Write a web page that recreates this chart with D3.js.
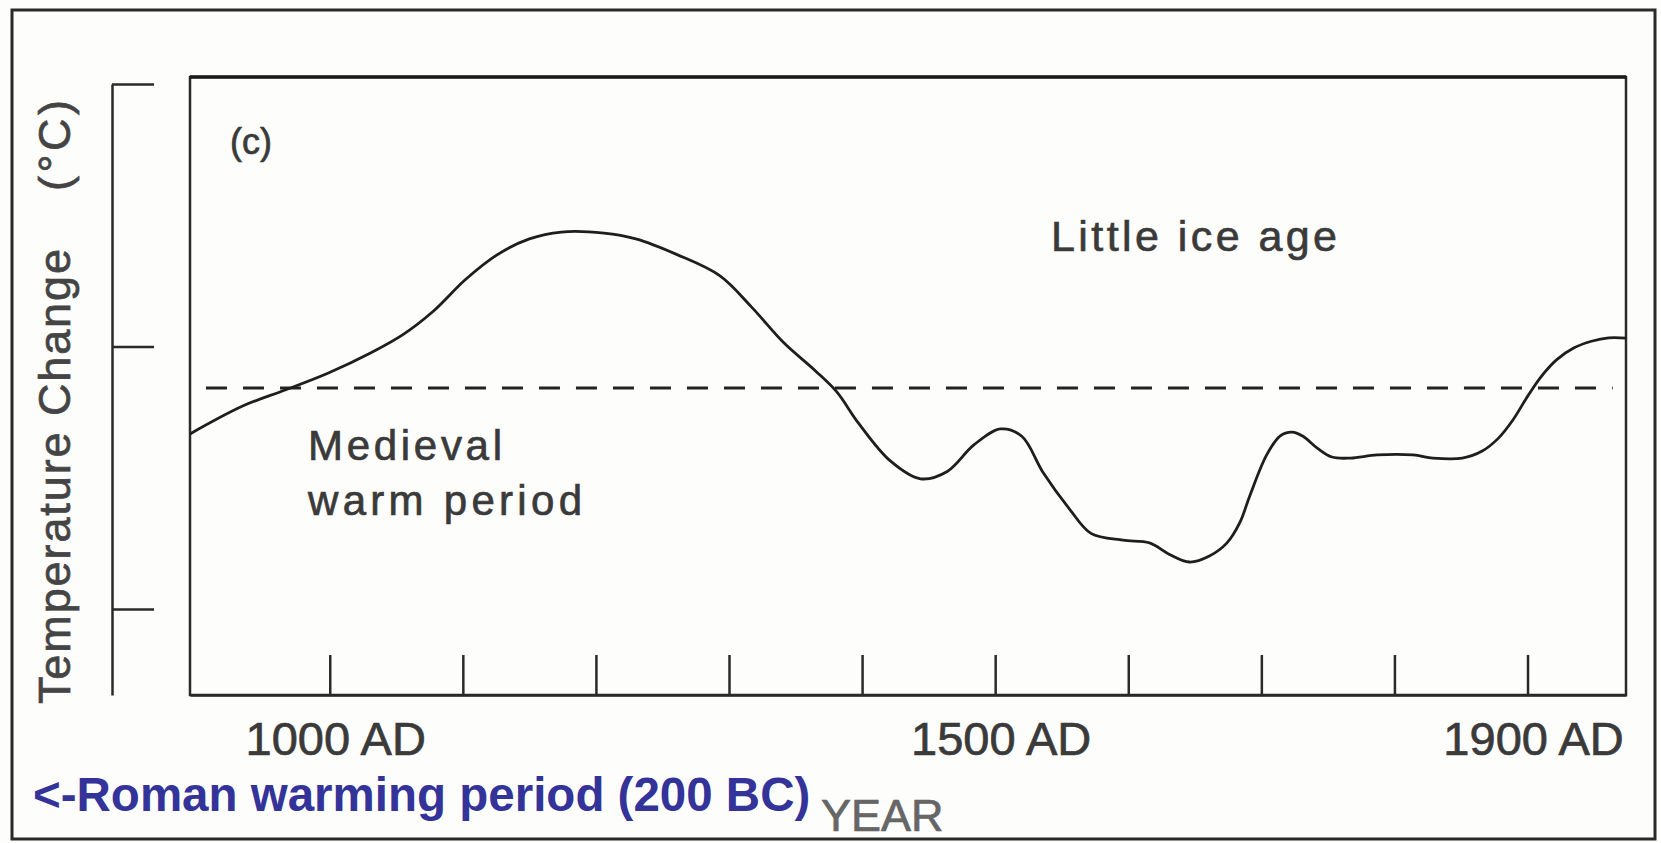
<!DOCTYPE html>
<html>
<head>
<meta charset="utf-8">
<script src="https://cdn.jsdelivr.net/npm/d3@7"></script>
<style>
  html, body { margin: 0; padding: 0; background: #fdfdfb; }
  svg { display: block; }
  .scan { font-family: "Liberation Sans", Arial, Helvetica, sans-serif; fill: #3a3a3a; stroke: #3a3a3a; stroke-width: 0.7px; }
  .axis path, .axis line { stroke: #2a2a2a; stroke-width: 2.5; }
</style>
</head>
<body>
<div id="chart"></div>
<script>
  // years (AD) and relative temperature
  var years = [895, 935, 967, 999, 1031, 1055, 1078, 1102, 1126, 1150, 1174, 1206, 1230, 1261, 1293,
    1317, 1341, 1365, 1381, 1397, 1421, 1444, 1464, 1484, 1504, 1520, 1536, 1556, 1572, 1596,
    1616, 1631, 1646, 1661, 1674, 1684, 1691, 1704, 1714, 1723, 1731, 1742, 1753, 1767, 1787,
    1814, 1829, 1851, 1866, 1878, 1889, 1900, 1911, 1922, 1935, 1948, 1961, 1974];
  var temps = [-0.333, -0.226, -0.165, -0.101, -0.024, 0.045, 0.135, 0.255, 0.350, 0.410, 0.436, 0.432, 0.410, 0.350, 0.270,
    0.150, 0.015, -0.093, -0.173, -0.290, -0.435, -0.504, -0.476, -0.375, -0.314, -0.342, -0.480, -0.620, -0.712, -0.738,
    -0.748, -0.792, -0.821, -0.798, -0.749, -0.669, -0.573, -0.413, -0.341, -0.326, -0.341, -0.387, -0.421, -0.425, -0.413,
    -0.413, -0.425, -0.425, -0.398, -0.350, -0.280, -0.190, -0.110, -0.050, -0.005, 0.020, 0.033, 0.032];

  // dashed reference level
  var refYears = [907, 1964];
  var refLevel = -0.158;

  var xTicks = [1000, 1100, 1200, 1300, 1400, 1500, 1600, 1700, 1800, 1900];
  var xTickLabels = [1000, 1500, 1900];
  var yTicks = [-1, 0, 1];

  var W = 1661, H = 843;
  var box = { left: 190, top: 77, right: 1626, bottom: 695 };

  var svg = d3.select("#chart").append("svg")
    .attr("width", W)
    .attr("height", H);

  var x = d3.scaleLinear().domain([895, 1974]).range([box.left, box.right]);
  var y = d3.scaleLinear().domain([-1.3276, 1]).range([box.bottom, 84]);

  // outer frame of the scanned figure
  svg.append("rect")
    .attr("x", 12).attr("y", 10)
    .attr("width", 1643).attr("height", 829)
    .attr("fill", "none")
    .attr("stroke", "#2a2a2a")
    .attr("stroke-width", 3);

  // plot box
  svg.append("rect")
    .attr("x", box.left).attr("y", box.top)
    .attr("width", box.right - box.left).attr("height", box.bottom - box.top)
    .attr("fill", "none")
    .attr("stroke", "#2a2a2a")
    .attr("stroke-width", 2.5);
  svg.append("line")
    .attr("x1", box.left).attr("x2", box.right)
    .attr("y1", box.top).attr("y2", box.top)
    .attr("stroke", "#1a1a1a")
    .attr("stroke-width", 3.5);

  // detached temperature axis on the left
  svg.append("g")
    .attr("class", "axis")
    .attr("transform", "translate(112,0)")
    .call(d3.axisRight(y).tickValues(yTicks).tickSizeInner(42).tickSizeOuter(0).tickFormat(""));

  // year ticks pointing up from the bottom of the box
  var xa = svg.append("g")
    .attr("class", "axis")
    .attr("transform", "translate(0," + box.bottom + ")")
    .call(d3.axisTop(x).tickValues(xTicks).tickSizeInner(40).tickSizeOuter(0).tickFormat(""));
  xa.selectAll(".tick line")
    .attr("stroke", function (d) { return (d > 1000 && d < 1400) ? "#777" : "#222"; });

  svg.selectAll(".xlab")
    .data(xTickLabels)
    .enter().append("text")
    .attr("class", "xlab scan")
    .attr("x", function (d) { return x(d) + 6; })
    .attr("y", 755)
    .attr("text-anchor", "middle")
    .style("font-size", "47px")
    .text(function (d) { return d + " AD"; });

  svg.append("text")
    .attr("class", "scan")
    .attr("x", 821).attr("y", 831)
    .style("font-size", "45px")
    .style("fill", "#666")
    .style("stroke", "#666")
    .text("YEAR");

  // y label, rotated
  svg.append("text")
    .attr("class", "scan")
    .attr("transform", "translate(70,704) rotate(-90)")
    .attr("textLength", 455)
    .attr("lengthAdjust", "spacing")
    .style("font-size", "45px")
    .style("fill", "#444")
    .style("stroke", "#444")
    .text("Temperature Change");
  svg.append("text")
    .attr("class", "scan")
    .attr("transform", "translate(70,191) rotate(-90)")
    .attr("textLength", 91)
    .attr("lengthAdjust", "spacing")
    .style("font-size", "45px")
    .style("fill", "#444")
    .style("stroke", "#444")
    .text("(°C)");

  // dashed reference
  var ref = refYears.map(function (d) { return { year: d, v: refLevel }; });
  svg.append("path")
    .datum(ref)
    .attr("fill", "none")
    .attr("stroke", "#222")
    .attr("stroke-width", 3.2)
    .attr("stroke-dasharray", "21,16")
    .attr("d", d3.line()
      .x(function (d) { return x(d.year); })
      .y(function (d) { return y(d.v); }));

  // temperature curve
  var series = years.map(function (d, i) { return { year: d, v: temps[i] }; });
  svg.append("path")
    .datum(series)
    .attr("fill", "none")
    .attr("stroke", "#1e1e1e")
    .attr("stroke-width", 2.8)
    .attr("stroke-linejoin", "round")
    .attr("d", d3.line()
      .curve(d3.curveCatmullRom.alpha(0.5))
      .x(function (d) { return x(d.year); })
      .y(function (d) { return y(d.v); }));

  // annotations
  svg.append("text")
    .attr("class", "scan")
    .attr("x", 230).attr("y", 154)
    .attr("textLength", 42)
    .attr("lengthAdjust", "spacingAndGlyphs")
    .style("font-size", "36px")
    .text("(c)");

  svg.append("text")
    .attr("class", "scan")
    .attr("x", 1051).attr("y", 251)
    .attr("textLength", 286)
    .attr("lengthAdjust", "spacing")
    .style("font-size", "43px")
    .text("Little ice age");

  svg.append("text")
    .attr("class", "scan")
    .attr("x", 308).attr("y", 460)
    .attr("textLength", 194)
    .attr("lengthAdjust", "spacing")
    .style("font-size", "42px")
    .text("Medieval");
  svg.append("text")
    .attr("class", "scan")
    .attr("x", 308).attr("y", 515)
    .attr("textLength", 274)
    .attr("lengthAdjust", "spacing")
    .style("font-size", "42px")
    .text("warm period");

  svg.append("text")
    .attr("x", 33).attr("y", 811)
    .style("font-family", "'Liberation Sans', Arial, sans-serif")
    .style("font-weight", "bold")
    .style("font-size", "47.5px")
    .style("fill", "#333399")
    .text("<-Roman warming period (200 BC)");
</script>
</body>
</html>
